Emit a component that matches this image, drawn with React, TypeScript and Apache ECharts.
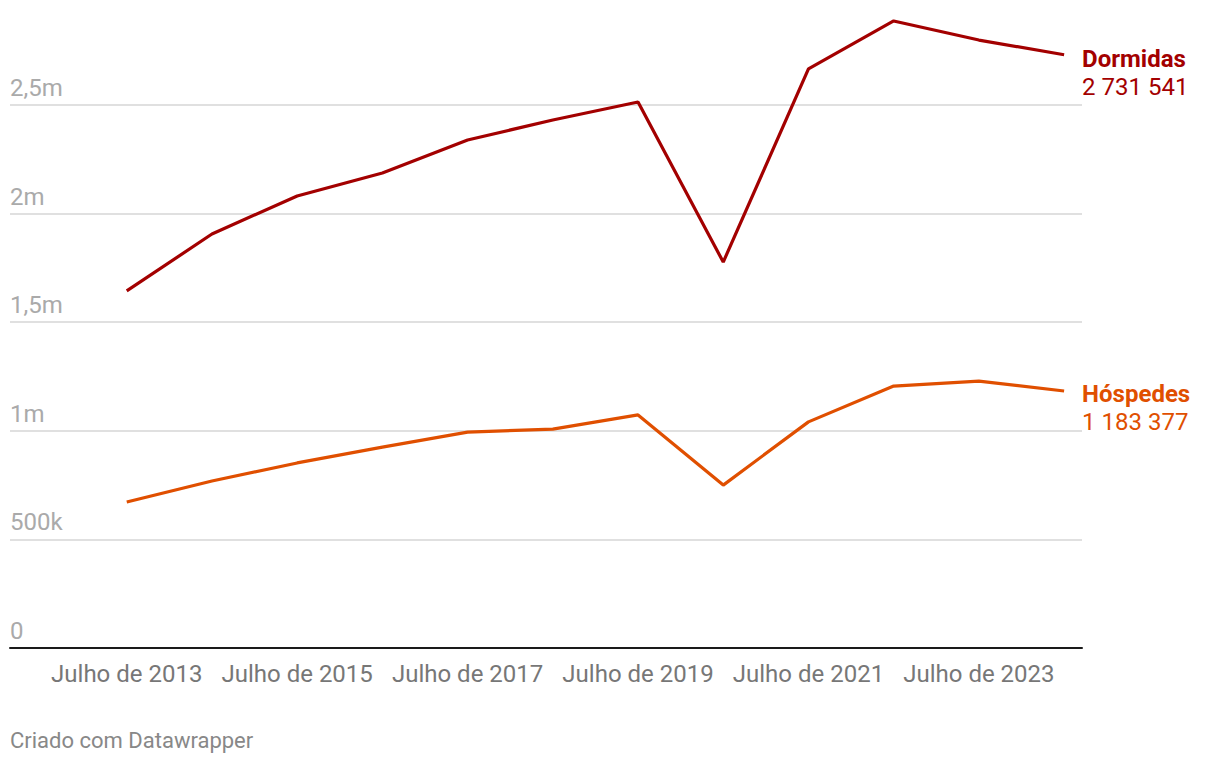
import React, { useEffect, useRef } from "react";
import * as echarts from "echarts";

const years = [2013, 2014, 2015, 2016, 2017, 2018, 2019, 2020, 2021, 2022, 2023, 2024];
const dormidas = [1644000, 1906000, 2081000, 2187000, 2339000, 2431000, 2514000, 1777000, 2666000, 2887000, 2799000, 2731541];
const hospedes = [672000, 769000, 852000, 925000, 994000, 1008000, 1073000, 750000, 1041000, 1206000, 1229000, 1183377];
const xTickYears = [2013, 2015, 2017, 2019, 2021, 2023];
const yTickLabels: Record<number, string> = { 0: "0", 500000: "500k", 1000000: "1m", 1500000: "1,5m", 2000000: "2m", 2500000: "2,5m" };

const fmt = (n: number) => String(Math.round(n)).replace(/\B(?=(\d{3})+(?!\d))/g, " ");

export default function App() {
  const ref = useRef<HTMLDivElement>(null);
  useEffect(() => {
    document.body.style.margin = "0";
    const chart = echarts.init(ref.current!, null, { renderer: "svg" });
    const font = "Roboto, sans-serif";
    const mk = (name: string, data: number[], color: string, offY: number) => ({
      type: "line",
      name,
      data: years.map((y, i) => [y, data[i]]),
      symbol: "none",
      clip: false,
      lineStyle: { color, width: 3.2 },
      itemStyle: { color },
      endLabel: {
        show: true,
        distance: 18,
        offset: [0, offY],
        formatter: (p: any) => `{a|${name}}\n{b|${fmt(p.value[1])}}`,
        rich: {
          a: { fontFamily: font, fontSize: 24, fontWeight: "bold", color, lineHeight: 28 },
          b: { fontFamily: font, fontSize: 24, color, lineHeight: 28 },
        },
      },
    });
    chart.setOption({
      animation: false,
      textStyle: { fontFamily: font },
      grid: { left: 10, right: 138, top: 105, bottom: 116 },
      xAxis: {
        type: "value",
        min: 2011.63,
        max: 2024.21,
        splitLine: { show: false },
        axisLine: { show: true, onZero: false, lineStyle: { color: "#1a1a1a", width: 2 } },
        axisTick: { show: false },
        axisLabel: {
          customValues: xTickYears,
          formatter: (v: number) => `Julho de ${v}`,
          color: "#777",
          fontSize: 24,
          fontFamily: font,
          margin: 14,
        },
      },
      yAxis: {
        type: "value",
        min: 0,
        max: 2500000,
        interval: 500000,
        axisLine: { show: false },
        axisTick: { show: false },
        splitLine: { lineStyle: { color: "#e0e0e0", width: 2 } },
        axisLabel: {
          inside: true,
          margin: 0,
          verticalAlign: "bottom",
          padding: [0, 0, 5, 0],
          color: "#aaa",
          fontSize: 24,
          fontFamily: font,
          formatter: (v: number) => yTickLabels[v] ?? "",
        },
      },
      series: [mk("Dormidas", dormidas, "#a30000", 18), mk("Hóspedes", hospedes, "#e04f00", 17)],
      graphic: [
        {
          type: "text",
          left: 10,
          top: 729,
          style: { text: "Criado com Datawrapper", fill: "#888", fontSize: 22, fontFamily: font },
        },
      ],
    });
    return () => chart.dispose();
  }, []);
  return <div ref={ref} style={{ width: 1220, height: 764 }} />;
}
